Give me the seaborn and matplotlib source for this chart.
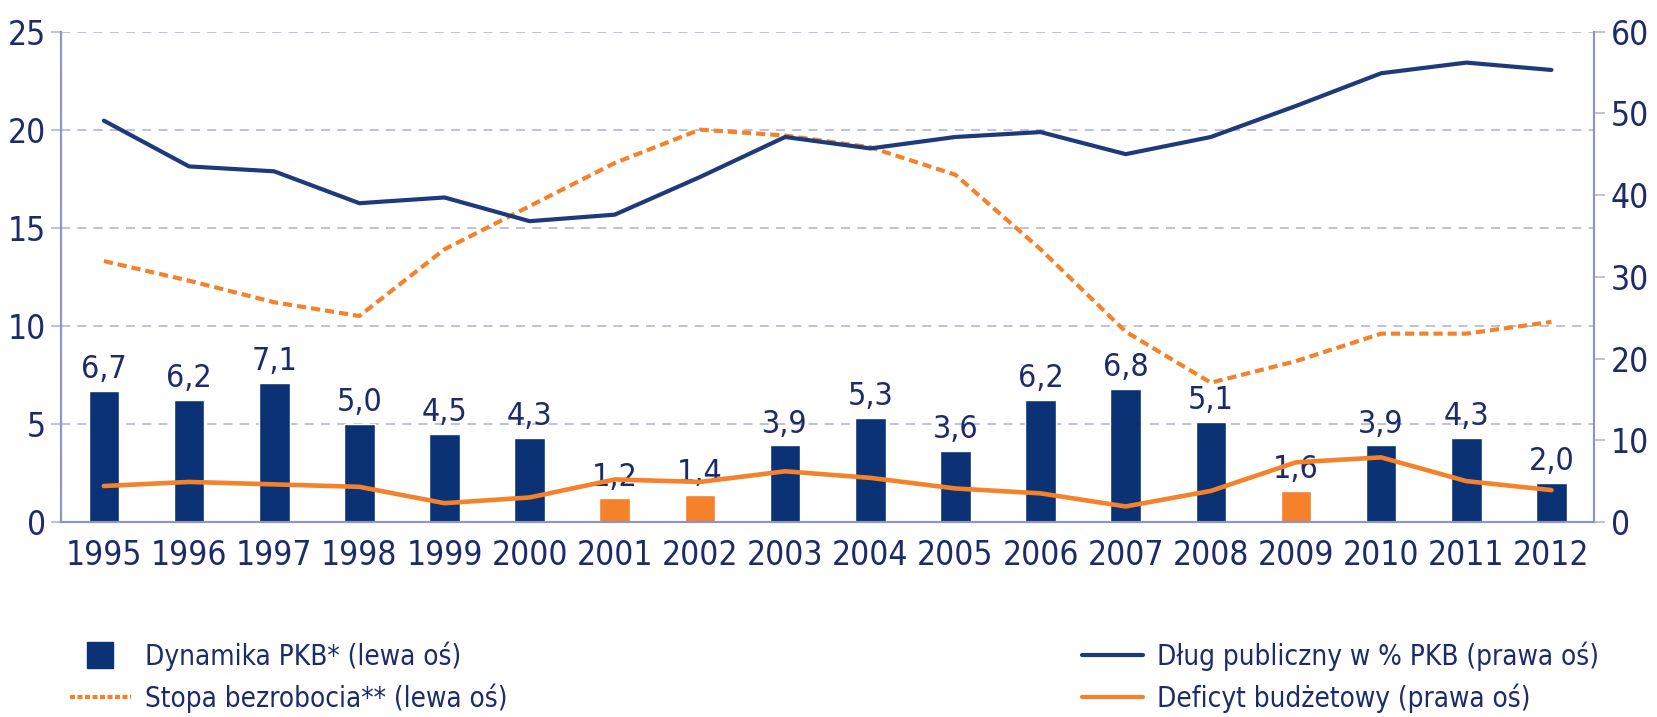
import numpy as np
import matplotlib.pyplot as plt
from matplotlib.lines import Line2D
import seaborn as sns

# Chart data
years = ["1995", "1996", "1997", "1998", "1999", "2000", "2001", "2002", "2003",
         "2004", "2005", "2006", "2007", "2008", "2009", "2010", "2011", "2012"]
gdp_growth = [6.7, 6.2, 7.1, 5.0, 4.5, 4.3, 1.2, 1.4, 3.9,
              5.3, 3.6, 6.2, 6.8, 5.1, 1.6, 3.9, 4.3, 2.0]
unemployment = [13.3, 12.3, 11.2, 10.5, 13.9, 16.1, 18.3, 20.0, 19.7,
                19.1, 17.7, 13.9, 9.7, 7.1, 8.2, 9.6, 9.6, 10.2]
public_debt = [49.1, 43.5, 42.9, 39.0, 39.7, 36.8, 37.6, 42.2, 47.1,
               45.7, 47.1, 47.7, 45.0, 47.1, 50.9, 54.9, 56.2, 55.3]
deficit = [4.4, 4.9, 4.6, 4.3, 2.3, 3.0, 5.2, 4.9, 6.2,
           5.4, 4.1, 3.5, 1.9, 3.8, 7.3, 7.9, 5.0, 3.9]
low_growth_years = ["2001", "2002", "2009"]

left_ticks = [0, 5, 10, 15, 20, 25]
right_ticks = [0, 10, 20, 30, 40, 50, 60]

NAVY = "#0b3275"
DEBT = "#1f3a7c"
ORANGE = "#f5822a"
TEXT = "#1d2b6b"
GRID = "#b7bcdc"
SPINE = "#8d95c4"

sns.set_style("white")
# condensed face to get closer to the narrow font of the original
plt.rcParams["font.family"] = ["DejaVu Sans"]
plt.rcParams["font.stretch"] = "condensed"

fig = plt.figure(figsize=(16.57, 7.17), dpi=100)
ax = fig.add_axes([0.037, 0.272, 0.925, 0.684])

# Bars: orange for the weak-growth years, navy otherwise
bar_colors = [ORANGE if y in low_growth_years else NAVY for y in years]
sns.barplot(x=years, y=gdp_growth, hue=years, palette=bar_colors, legend=False,
            width=0.36, saturation=1, ax=ax, zorder=2)

# Value labels above each bar, Polish decimal comma
for i, v in enumerate(gdp_growth):
    ax.text(i, v + 0.3, f"{v:.1f}".replace(".", ","), ha="center", va="bottom",
            fontsize=23, color=TEXT, zorder=3)

# Unemployment on the left axis
x_pos = np.arange(len(years))
sns.lineplot(x=x_pos, y=unemployment, ax=ax, color=ORANGE, linewidth=3,
             linestyle=(0, (2.2, 1.2)), zorder=4)

ax.set_xlim(-0.5, len(years) - 0.5)
ax.set_ylim(0, 25)
ax.set_yticks(left_ticks)
ax.set_xticks(x_pos)
ax.set_xticklabels(years)
ax.set_xlabel("")
ax.set_ylabel("")
ax.yaxis.grid(True, color=GRID, linestyle=(0, (5, 4)), linewidth=1.3)
ax.set_axisbelow(True)
ax.tick_params(axis="x", length=0, pad=12, labelsize=24, colors=TEXT)
ax.tick_params(axis="y", length=7, width=1.3, color=GRID, pad=4,
               labelsize=24, labelcolor=TEXT)

# Debt and deficit on the right axis
ax2 = ax.twinx()
sns.lineplot(x=x_pos, y=public_debt, ax=ax2, color=DEBT, linewidth=3)
sns.lineplot(x=x_pos, y=deficit, ax=ax2, color=ORANGE, linewidth=3.3)
ax2.set_ylim(0, 60)
ax2.set_yticks(right_ticks)
ax2.set_ylabel("")
ax2.tick_params(axis="y", length=8, width=1.3, color=GRID, pad=4,
                labelsize=24, labelcolor=TEXT)

for a in (ax, ax2):
    a.spines["top"].set_visible(False)
    for s in ("left", "right", "bottom"):
        a.spines[s].set_color(SPINE)
        a.spines[s].set_linewidth(1.5)

# Two-column legend below the chart
left_handles = [
    Line2D([], [], marker="s", linestyle="none", markersize=19, color=NAVY),
    Line2D([], [], color=ORANGE, linewidth=3, linestyle=(0, (1.2, 0.6))),
]
right_handles = [
    Line2D([], [], color=DEBT, linewidth=3),
    Line2D([], [], color=ORANGE, linewidth=3),
]
leg_kw = dict(frameon=False, fontsize=20, handlelength=2.2, handletextpad=0.5,
              labelspacing=0.45, borderpad=0, borderaxespad=0, labelcolor=TEXT,
              loc="center left")
fig.legend(left_handles, ["Dynamika PKB* (lewa oś)", "Stopa bezrobocia** (lewa oś)"],
           bbox_to_anchor=(0.042, 0.056), **leg_kw)
fig.legend(right_handles, ["Dług publiczny w % PKB (prawa oś)", "Deficyt budżetowy (prawa oś)"],
           bbox_to_anchor=(0.653, 0.056), **leg_kw)

plt.savefig("out.png", dpi=100)
plt.close()
